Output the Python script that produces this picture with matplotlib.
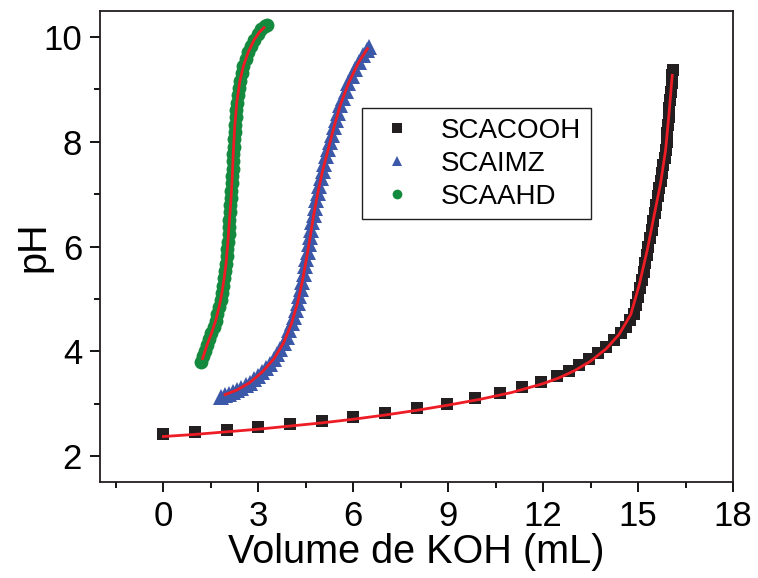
# pH titration curves of the three samples with KOH, plus fitted curves
import matplotlib.pyplot as plt
from matplotlib.ticker import MultipleLocator

plt.rcParams['font.family'] = ['Liberation Sans', 'DejaVu Sans']

# SCACOOH (black squares)
cooh_v = [0, 1, 2, 3, 4, 5, 6, 7, 8, 8.95, 9.84, 10.63, 11.33, 11.93, 12.44, 12.83,
          13.14, 13.46, 13.72, 13.98, 14.24, 14.45, 14.61, 14.75,
          14.88, 14.95, 15.01, 15.07, 15.13, 15.18, 15.23, 15.28, 15.33, 15.38, 15.43,
          15.48, 15.53, 15.58, 15.63, 15.67, 15.71, 15.76, 15.80, 15.84, 15.87, 15.90,
          15.93, 15.95, 15.97, 15.99, 16.01, 16.04, 16.06, 16.08, 16.10]
cooh_ph = [2.42, 2.46, 2.50, 2.55, 2.61, 2.67, 2.74, 2.82, 2.92, 3.00, 3.10, 3.20, 3.31,
           3.42, 3.53, 3.63, 3.74, 3.85, 3.96, 4.08, 4.21, 4.34, 4.47, 4.60,
           4.72, 4.88, 5.04, 5.20, 5.36, 5.52, 5.68, 5.84, 6.00, 6.16, 6.32, 6.48, 6.64,
           6.80, 6.96, 7.12, 7.26, 7.40, 7.55, 7.70, 7.84, 8.00, 8.16, 8.32, 8.48, 8.64,
           8.80, 8.96, 9.12, 9.27, 9.38]
cooh_fit_v = [0, 1, 2, 3, 4, 5, 6, 7, 8, 9, 10, 11, 12, 12.5, 13, 13.5, 14, 14.4,
              14.77, 15.03, 15.29, 15.5, 15.71, 15.87, 15.97, 16.08]
cooh_fit_ph = [2.37, 2.41, 2.46, 2.51, 2.57, 2.63, 2.70, 2.78, 2.87, 2.97, 3.08, 3.21,
               3.38, 3.49, 3.63, 3.81, 4.05, 4.32, 4.70, 5.25, 5.93, 6.57, 7.20, 7.84,
               8.48, 9.27]

# SCAIMZ (blue triangles)
imz_v = [1.83, 1.95, 2.07, 2.2, 2.33, 2.46, 2.6, 2.73, 2.86, 3.0, 3.12, 3.25, 3.38, 3.5,
         3.6, 3.7, 3.8, 3.9, 3.98, 4.05, 4.12, 4.18, 4.24, 4.29, 4.34, 4.39, 4.44, 4.48,
         4.52, 4.56, 4.60, 4.64, 4.67, 4.71, 4.75, 4.79, 4.83, 4.88, 4.93, 4.98, 5.03,
         5.09, 5.15, 5.21, 5.27, 5.33, 5.39, 5.45, 5.52, 5.59, 5.67, 5.76, 5.85, 5.95,
         6.06, 6.18, 6.30, 6.42, 6.50]
imz_ph = [3.13, 3.16, 3.19, 3.22, 3.26, 3.30, 3.35, 3.40, 3.46, 3.53, 3.60, 3.68, 3.76,
          3.86, 3.95, 4.05, 4.16, 4.28, 4.40, 4.53, 4.66, 4.79, 4.92, 5.05, 5.19, 5.33,
          5.48, 5.62, 5.76, 5.90, 6.04, 6.18, 6.32, 6.46, 6.60, 6.74, 6.88, 7.02, 7.16,
          7.30, 7.44, 7.58, 7.72, 7.86, 8.00, 8.14, 8.28, 8.42, 8.56, 8.70, 8.84, 8.98,
          9.12, 9.26, 9.40, 9.53, 9.65, 9.75, 9.81]
imz_fit_v = [1.95, 2.33, 2.73, 3.12, 3.5, 3.8, 4.05, 4.24, 4.39, 4.52, 4.64, 4.75, 4.88,
             5.03, 5.21, 5.39, 5.59, 5.85, 6.18, 6.45]
imz_fit_ph = [3.17, 3.26, 3.40, 3.60, 3.86, 4.16, 4.53, 4.92, 5.33, 5.76, 6.18, 6.60,
              7.02, 7.44, 7.86, 8.28, 8.70, 9.12, 9.53, 9.78]

# SCAAHD (green circles)
ahd_v = [1.19, 1.25, 1.31, 1.38, 1.45, 1.52, 1.59, 1.65, 1.71, 1.76, 1.81, 1.85, 1.89,
         1.92, 1.95, 1.98, 2.00, 2.02, 2.04, 2.06, 2.08, 2.09, 2.11, 2.12, 2.14, 2.15,
         2.16, 2.18, 2.19, 2.20, 2.21, 2.22, 2.23, 2.25, 2.26, 2.28, 2.30, 2.32, 2.35,
         2.38, 2.42, 2.47, 2.53, 2.60, 2.68, 2.77, 2.87, 2.98, 3.09, 3.20, 3.27]
ahd_ph = [3.79, 3.90, 4.01, 4.12, 4.23, 4.34, 4.46, 4.58, 4.71, 4.84, 4.97, 5.11, 5.25,
          5.39, 5.53, 5.67, 5.81, 5.95, 6.09, 6.23, 6.37, 6.51, 6.65, 6.79, 6.93, 7.07,
          7.21, 7.35, 7.49, 7.63, 7.77, 7.91, 8.05, 8.19, 8.33, 8.47, 8.61, 8.75, 8.89,
          9.03, 9.17, 9.31, 9.45, 9.58, 9.71, 9.83, 9.95, 10.06, 10.15, 10.21, 10.23]
ahd_fit_v = [1.24, 1.38, 1.52, 1.65, 1.76, 1.85, 1.92, 1.98, 2.04, 2.09, 2.14, 2.18,
             2.22, 2.26, 2.32, 2.42, 2.53, 2.68, 2.87, 3.04, 3.18]
ahd_fit_ph = [3.86, 4.12, 4.34, 4.58, 4.84, 5.11, 5.39, 5.67, 6.09, 6.51, 6.93, 7.35,
              7.91, 8.33, 8.75, 9.17, 9.45, 9.71, 9.95, 10.10, 10.18]

BLACK = '#231f20'
BLUE = '#3c58a8'
GREEN = '#138a3e'
RED = '#ee1c25'

fig = plt.figure(figsize=(7.58, 5.78), dpi=100)
ax = fig.add_axes([0.132, 0.166, 0.835, 0.815])

ax.plot(cooh_v, cooh_ph, 's', color=BLACK, ms=9, mew=0, label='SCACOOH')
ax.plot(imz_v, imz_ph, '^', color=BLUE, ms=11, mew=0, label='SCAIMZ')
ax.plot(ahd_v, ahd_ph, 'o', color=GREEN, ms=10, mew=0, label='SCAAHD')

ax.plot(cooh_fit_v, cooh_fit_ph, '-', color=RED, lw=2)
ax.plot(imz_fit_v, imz_fit_ph, '-', color=RED, lw=2)
ax.plot(ahd_fit_v, ahd_fit_ph, '-', color=RED, lw=2)

ax.set_xlim(-2, 18)
ax.set_ylim(1.5, 10.5)
ax.xaxis.set_major_locator(MultipleLocator(3))
ax.xaxis.set_minor_locator(MultipleLocator(1.5))
ax.yaxis.set_major_locator(MultipleLocator(2))
ax.yaxis.set_minor_locator(MultipleLocator(1))
ax.tick_params(which='major', direction='out', length=7, width=1.3, labelsize=25, pad=6)
ax.tick_params(which='minor', direction='out', length=4, width=1.3)
for sp in ax.spines.values():
    sp.set_linewidth(1.3)
    sp.set_color('#231f20')

ax.set_xlabel('Volume de KOH (mL)', fontsize=28.5, labelpad=0)
ax.set_ylabel('pH', fontsize=28.5)
ax.yaxis.set_label_coords(-0.075, 0.5)

leg = ax.legend(loc='upper left', bbox_to_anchor=(0.414, 0.794), borderaxespad=0,
                fontsize=20, fancybox=False, framealpha=1, edgecolor='#231f20',
                handletextpad=0.7, labelspacing=0.25, handlelength=1.8, borderpad=0.35)
leg.get_frame().set_linewidth(1.0)
for h in leg.legend_handles:
    h.set_markersize(7)

fig.savefig('out.png', dpi=100)
